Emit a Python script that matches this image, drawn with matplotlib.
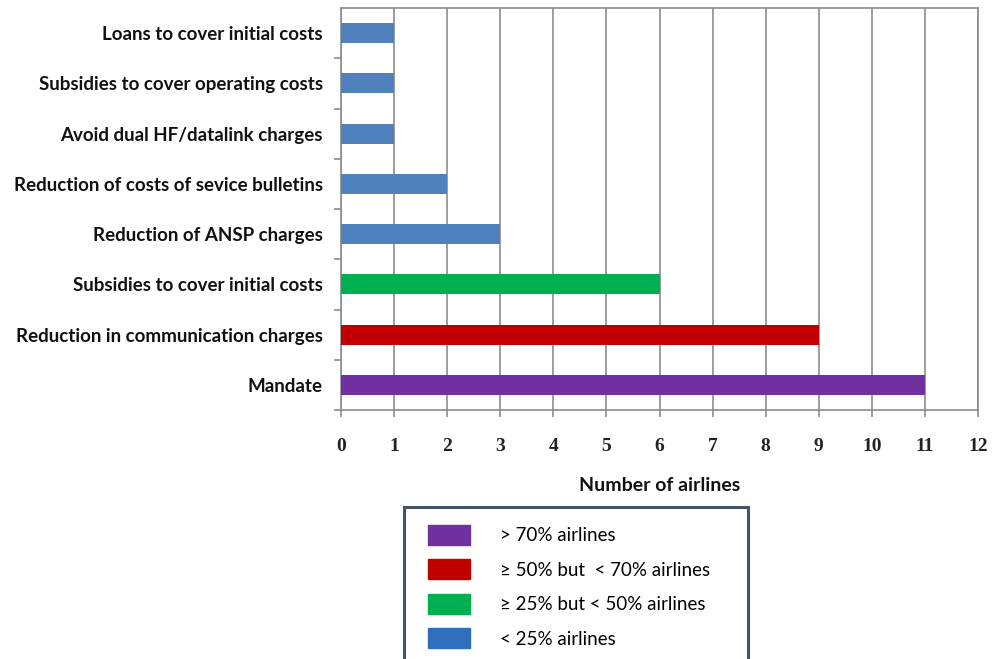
import matplotlib
matplotlib.use("Agg")
import matplotlib.pyplot as plt
from matplotlib.patches import Patch, Rectangle

# ================================ Data ================================
categories = [
    "Mandate",
    "Reduction in communication charges",
    "Subsidies to cover initial costs",
    "Reduction of ANSP charges",
    "Reduction of costs of sevice bulletins",
    "Avoid dual HF/datalink charges",
    "Subsidies to cover operating costs",
    "Loans to cover initial costs",
]
airlines = [11, 9, 6, 3, 2, 1, 1, 1]
groups = [0, 1, 2, 3, 3, 3, 3, 3]  # index into legend classes

class_labels = [
    "> 70% airlines",
    "\u2265 50% but  < 70% airlines",
    "\u2265 25% but < 50% airlines",
    "< 25% airlines",
]
bar_colors = ["#7030a0", "#c00000", "#00b050", "#4f81bd"]
legend_colors = ["#7030a0", "#c00000", "#00b050", "#2e6fbd"]
xticks = list(range(0, 13))

# ================================ Figure ================================
fig = plt.figure(figsize=(9.93, 6.59), dpi=100)
ax = fig.add_axes([341 / 993, 1 - 410 / 659, 637 / 993, 402 / 659])

pos = list(range(len(categories)))
ax.barh(pos, airlines, height=0.4, color=[bar_colors[g] for g in groups], zorder=3)

ax.set_xlim(0, 12)
ax.set_ylim(-0.5, len(categories) - 0.5)
ax.set_xticks(xticks)
ax.set_xticklabels([str(t) for t in xticks], family="Liberation Serif",
                   fontweight="bold", fontsize=14, color="#222222")
ax.grid(axis="x", color="#8c8c8c", linewidth=1.2, zorder=0)

ax.set_yticks(pos)
ax.set_yticklabels(categories, family="Lato", fontweight="bold", fontsize=13.5,
                   color="#111111")
ax.set_yticks([p + 0.5 for p in pos[:-1]] + [-0.5], minor=True)
ax.tick_params(axis="y", which="major", length=0, pad=13)
ax.tick_params(axis="y", which="minor", length=5, color="#8c8c8c", width=1.2)
ax.tick_params(axis="x", length=5, color="#8c8c8c", width=1.2, pad=15)

for s in ax.spines.values():
    s.set_color("#8c8c8c")
    s.set_linewidth(1.2)

ax.set_xlabel("Number of airlines", family="Lato", fontweight="bold",
              fontsize=14, color="#111111", labelpad=16)

# ================================ Legend ================================
handles = [Patch(facecolor=c, edgecolor=c) for c in legend_colors]
fig.legend(handles, class_labels, loc="upper left",
           bbox_to_anchor=(428 / 993, 1 - 525 / 659), frameon=False,
           prop={"family": "Lato", "size": 13.5},
           handlelength=2.24, handleheight=1.25, labelspacing=0.78,
           handletextpad=1.6, borderpad=0, borderaxespad=0)
fig.patches.append(Rectangle((404 / 993, -0.05), 344 / 993, 0.05 + (659 - 507) / 659,
                             transform=fig.transFigure, fill=False,
                             edgecolor="#44546a", linewidth=2.2))

plt.savefig("out.png", dpi=100)
